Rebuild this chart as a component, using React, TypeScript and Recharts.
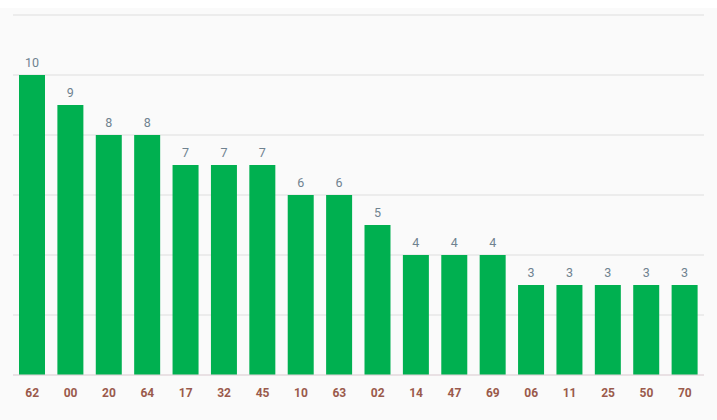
import React from 'react';
import { BarChart, Bar, XAxis, YAxis, CartesianGrid, LabelList } from 'recharts';

// Numbers and how often they appear
const numbers = ['62', '00', '20', '64', '17', '32', '45', '10', '63', '02', '14', '47', '69', '06', '11', '25', '50', '70'];
const counts = [10, 9, 8, 8, 7, 7, 7, 6, 6, 5, 4, 4, 4, 3, 3, 3, 3, 3];
const yTicks = [0, 2, 4, 6, 8, 10, 12];

const data = numbers.map((n, i) => ({ number: n, count: counts[i] }));

export default function App() {
  return (
    <div style={{ position: 'absolute', top: 8, left: 0, width: 717, height: 412, background: '#fafafa', fontFamily: 'Roboto, sans-serif' }}>
      <BarChart width={717} height={412} data={data} margin={{ top: 7, right: 13, left: 13, bottom: 15 }}>
        <CartesianGrid vertical={false} stroke="#dedede" />
        <XAxis
          dataKey="number"
          tickLine={false}
          axisLine={{ stroke: '#e6d6dc' }}
          height={30}
          tick={{ fill: '#9a5a4c', fontSize: 12, fontWeight: 700 }}
          dy={5}
        />
        <YAxis hide domain={[0, 12]} ticks={yTicks} />
        <Bar dataKey="count" fill="#00b050" barSize={26} isAnimationActive={false}>
          <LabelList dataKey="count" position="top" offset={8} fill="#6f8290" fontSize={12.5} />
        </Bar>
      </BarChart>
    </div>
  );
}
